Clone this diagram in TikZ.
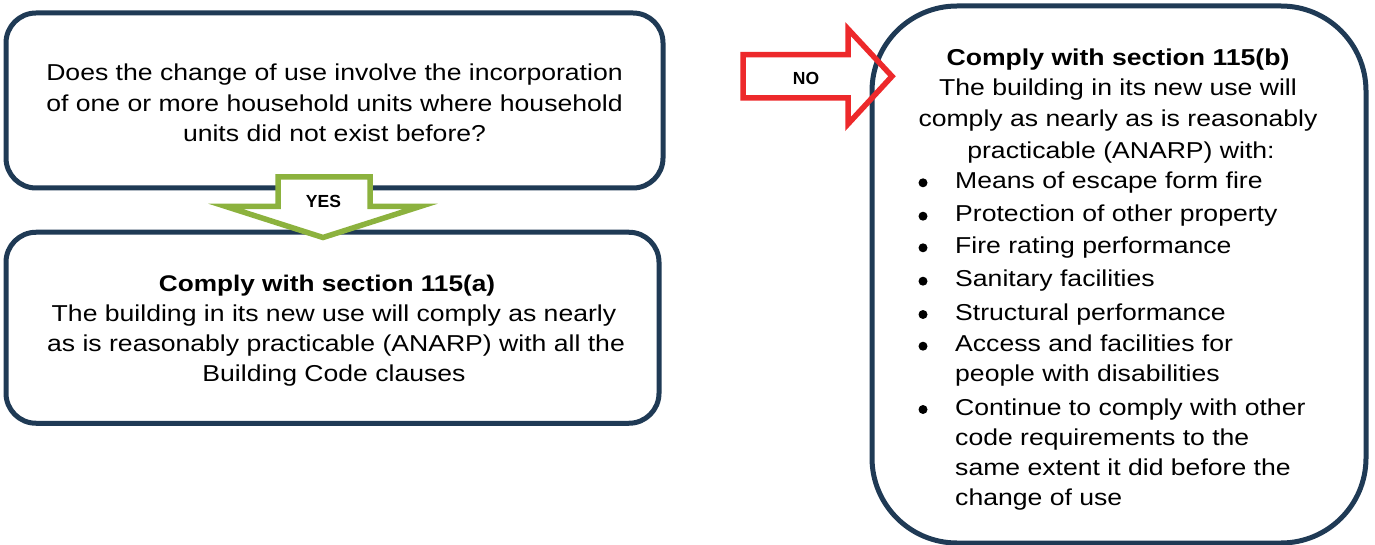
\documentclass[tikz,border=0pt]{standalone}
\usepackage{fontspec}
\setmainfont{Liberation Sans}[FakeStretch=1.156]
\newfontfamily\lblfont{Liberation Sans}
\definecolor{navy}{RGB}{31,58,85}
\definecolor{ygreen}{RGB}{140,178,62}
\definecolor{nred}{RGB}{237,41,43}
\begin{document}
\begin{tikzpicture}[x=1pt,y=-1pt,
  box/.style={draw=navy, line width=5pt, fill=white, inner sep=0pt},
  txt/.style={font=\fontsize{23}{31}\selectfont, inner sep=0pt, anchor=base},
  btxt/.style={font=\fontsize{22.65}{31}\selectfont\bfseries, inner sep=0pt, anchor=base},
  itm/.style={font=\fontsize{23}{31}\selectfont, inner sep=0pt, anchor=base west},
  bul/.style={circle, fill=black, inner sep=0pt, minimum size=9pt},
  lbl/.style={font=\lblfont\fontsize{17.5}{20}\selectfont\bfseries, inner sep=0pt},
  yesarrow/.style={draw=ygreen, line width=5.5pt, fill=white, line join=miter},
  noarrow/.style={draw=nred, line width=5.5pt, line join=miter}]
\useasboundingbox (0,0) rectangle (1375,545);

% boxes
\node[box, rounded corners=30pt, minimum width=657pt, minimum height=175pt] (q) at (334.5,100.5) {};
\node[box, rounded corners=30pt, minimum width=653pt, minimum height=191pt] (a) at (332.5,327.75) {};
\node[box, rounded corners=85pt, minimum width=494pt, minimum height=537pt] (b) at (1119,274.5) {};

% YES arrow
\draw[yesarrow] (278,177) -- (370,177) -- (370,206.5) -- (420,206.5) -- (323,237.5)
  -- (226,206.5) -- (278,206.5) -- cycle;
\node[lbl] (yes) at (323.5,201.5) {YES};

% NO arrow
\draw[noarrow] (743,54.7) -- (848,54.7) -- (848,29) -- (892,76.3) -- (848,124)
  -- (848,98) -- (743,98) -- cycle;
\node[lbl] (no) at (806,78.3) {NO};

% question text
\node[txt] (q1) at (334.5,81) {Does the change of use involve the incorporation};
\node[txt] (q2) at (334.5,112) {of one or more household units where household};
\node[txt] (q3) at (334.5,142) {units did not exist before?};

% 115(a) text
\node[btxt] (a0) at (327,291) {Comply with section 115(a)};
\node[txt] (a1) at (334,321.7) {The building in its new use will comply as nearly};
\node[txt] (a2) at (336,351.7) {as is reasonably practicable (ANARP) with all the};
\node[txt] (a3) at (334,381.7) {Building Code clauses};

% 115(b) text
\node[btxt] (b0) at (1118,65.7) {\fontsize{23}{31}\selectfont Comply with section 115(b)};
\node[txt] (b1) at (1118,95.7) {The building in its new use will};
\node[txt] (b2) at (1118,126.7) {comply as nearly as is reasonably};
\node[txt] (b3) at (1121,158.3) {practicable (ANARP) with:};

\node[itm] (i1) at (955,188.3) {Means of escape form fire};
\node[itm] (i2) at (955,221.7) {Protection of other property};
\node[itm] (i3) at (955,253.3) {Fire rating performance};
\node[itm] (i4) at (955,286.7) {Sanitary facilities};
\node[itm] (i5) at (955,320) {Structural performance};
\node[itm] (i6) at (955,351.7) {Access and facilities for};
\node[itm] (i6b) at (955,381.7) {people with disabilities};
\node[itm] (i7) at (955,415) {Continue to comply with other};
\node[itm] (i7b) at (955,445) {code requirements to the};
\node[itm] (i7c) at (955,475) {same extent it did before the};
\node[itm] (i7d) at (955,505) {change of use};

\foreach \yy/\nm in {188.3/d1,221.7/d2,253.3/d3,286.7/d4,320/d5,351.7/d6,415/d7}
  \node[bul] (\nm) at (923,\yy-5.5) {};
\end{tikzpicture}
\end{document}
